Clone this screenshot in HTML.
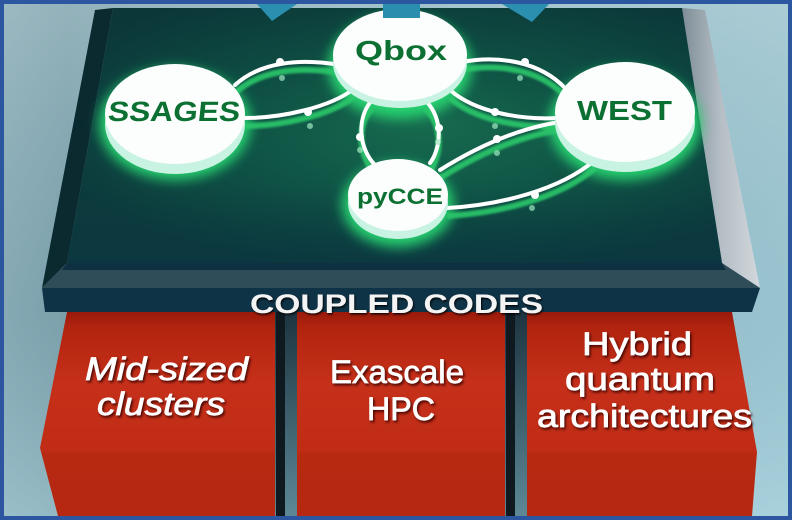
<!DOCTYPE html>
<html><head><meta charset="utf-8"><style>
html,body{margin:0;padding:0;width:792px;height:520px;overflow:hidden;background:#2d56a0}
svg{display:block}
</style></head><body>
<svg width="792" height="520" viewBox="0 0 792 520" xmlns="http://www.w3.org/2000/svg">
<defs>
<linearGradient id="bg" x1="0" y1="0" x2="1" y2="0">
<stop offset="0" stop-color="#8fb0ba"/><stop offset="0.08" stop-color="#7fa3ad"/><stop offset="0.5" stop-color="#9cc3cf"/><stop offset="0.92" stop-color="#a6d1dd"/><stop offset="1" stop-color="#aad5e0"/>
</linearGradient>
<linearGradient id="bgv" x1="0" y1="0" x2="0" y2="1">
<stop offset="0" stop-color="#a9c2c9" stop-opacity="0.5"/><stop offset="0.6" stop-color="#6f98a5" stop-opacity="0.3"/><stop offset="1" stop-color="#a5cdd8" stop-opacity="0.5"/>
</linearGradient>
<radialGradient id="top" cx="0.55" cy="0.45" r="0.6">
<stop offset="0" stop-color="#187050"/><stop offset="0.5" stop-color="#0f5446"/><stop offset="1" stop-color="#0c3a3c"/>
</radialGradient>
<linearGradient id="topv" x1="0" y1="0" x2="0" y2="1">
<stop offset="0" stop-color="#0a2f30" stop-opacity="0.3"/><stop offset="0.7" stop-color="#0a3a40" stop-opacity="0"/><stop offset="1" stop-color="#0b3543" stop-opacity="0.6"/>
</linearGradient>
<linearGradient id="gray" x1="0" y1="0" x2="1" y2="0">
<stop offset="0" stop-color="#7d8d96"/><stop offset="0.5" stop-color="#b5bec5"/><stop offset="1" stop-color="#d2d8dc"/>
</linearGradient>
<linearGradient id="red1" x1="0" y1="0" x2="0" y2="1">
<stop offset="0" stop-color="#9a1a0b"/><stop offset="0.08" stop-color="#b2240f"/><stop offset="0.35" stop-color="#c6301a"/><stop offset="0.68" stop-color="#c02c15"/><stop offset="0.7" stop-color="#b82912"/><stop offset="1" stop-color="#b62812"/>
</linearGradient>
<linearGradient id="gap" x1="0" y1="0" x2="0" y2="1">
<stop offset="0" stop-color="#1d3440"/><stop offset="1" stop-color="#5d8896"/>
</linearGradient>
<filter id="blur6" x="-30%" y="-30%" width="160%" height="160%"><feGaussianBlur stdDeviation="6"/></filter>
<filter id="blur1" x="-30%" y="-30%" width="160%" height="160%"><feGaussianBlur stdDeviation="1"/></filter>
<filter id="sh" x="-10%" y="-30%" width="120%" height="160%"><feDropShadow dx="1.5" dy="2" stdDeviation="1.2" flood-color="#300500" flood-opacity="0.85"/></filter>
<filter id="sh2" x="-10%" y="-30%" width="120%" height="160%"><feDropShadow dx="1" dy="1.5" stdDeviation="1" flood-color="#000" flood-opacity="0.9"/></filter>
</defs>

<rect x="4" y="4" width="784" height="512" fill="url(#bg)"/>
<rect x="4" y="4" width="784" height="512" fill="url(#bgv)"/>

<rect x="272" y="312" width="28" height="204" fill="url(#gap)"/>
<rect x="276" y="312" width="9" height="204" fill="#0e1a20"/>
<rect x="502" y="312" width="28" height="204" fill="url(#gap)"/>
<rect x="506" y="312" width="9" height="204" fill="#0e1a20"/>
<polygon points="67,312 275,312 275,516 58,516 40,448" fill="url(#red1)"/>
<polygon points="297,312 505,312 505,516 297,516" fill="url(#red1)"/>
<polygon points="527,312 732,312 757,452 752,516 527,516" fill="url(#red1)"/>

<polygon points="95,10 113,8 67,263 42,288" fill="#0a2a30"/>
<polygon points="682,8 705,10 760,288 722,263" fill="url(#gray)"/>
<polygon points="113,8 682,8 722,263 67,263" fill="url(#top)"/>
<polygon points="113,8 682,8 722,263 67,263" fill="url(#topv)"/>
<polygon points="67,263 722,263 760,288 42,288" fill="#2e4d58"/>
<polygon points="67,263 722,263 726,270 62,270" fill="#0f3040"/>
<polygon points="42,288 760,288 752,312 45,312" fill="#0f3346"/>

<polygon points="257,4 297,4 272,21" fill="#2b8fb0"/>
<polygon points="502,4 549,4 532,22" fill="#2b8fb0"/>

<g filter="url(#blur6)" opacity="1">
<ellipse cx="175" cy="124" rx="76" ry="56" fill="#28d070"/>
<ellipse cx="400" cy="67" rx="72" ry="52" fill="#28d070"/>
<ellipse cx="625" cy="124" rx="76" ry="56" fill="#28d070"/>
<ellipse cx="398" cy="205" rx="56" ry="42" fill="#28d070"/>
</g>

<g fill="none" stroke="#2bc86a" stroke-width="6" filter="url(#blur1)" transform="translate(0,8)" opacity="0.9">
<path d="M235,85 C260,62 300,58 340,65"/>
<path d="M245,118 C280,118 330,108 355,88"/>
<path d="M462,62 C500,55 540,62 565,88"/>
<path d="M450,90 C475,112 520,120 558,118"/>
<path d="M372,100 C355,120 360,150 375,165"/>
<path d="M425,100 C445,120 440,150 430,163"/>
<path d="M440,170 C480,145 520,128 560,122"/>
<path d="M447,208 C500,205 560,190 595,160"/>
</g>
<g fill="none" stroke="#ffffff" stroke-width="4" stroke-linecap="round">
<path d="M235,85 C260,62 300,58 340,65"/>
<path d="M245,118 C280,118 330,108 355,88"/>
<path d="M462,62 C500,55 540,62 565,88"/>
<path d="M450,90 C475,112 520,120 558,118"/>
<path d="M372,100 C355,120 360,150 375,165"/>
<path d="M425,100 C445,120 440,150 430,163"/>
<path d="M440,170 C480,145 520,128 560,122"/>
<path d="M447,208 C500,205 560,190 595,160"/>
</g>
<g fill="#ffffff">
<circle cx="280" cy="62" r="4"/><circle cx="308" cy="112" r="4"/>
<circle cx="525" cy="62" r="4"/><circle cx="495" cy="112" r="4"/>
<circle cx="360" cy="137" r="4"/><circle cx="439" cy="128" r="4"/>
<circle cx="497" cy="139" r="4"/><circle cx="535" cy="195" r="4"/>
</g>
<g fill="#9ee8c0" opacity="0.7">
<circle cx="282" cy="78" r="3"/><circle cx="310" cy="126" r="3"/>
<circle cx="520" cy="78" r="3"/><circle cx="495" cy="126" r="3"/>
<circle cx="360" cy="150" r="3"/><circle cx="438" cy="142" r="3"/>
<circle cx="497" cy="153" r="3"/><circle cx="532" cy="208" r="3"/>
</g>

<g>
<ellipse cx="175" cy="124" rx="70" ry="50" fill="#c8f2e2"/>
<ellipse cx="175" cy="114" rx="70" ry="50" fill="#fbfefd"/>
<ellipse cx="400" cy="63" rx="67" ry="45" fill="#c8f2e2"/>
<ellipse cx="400" cy="55" rx="67" ry="46" fill="#fbfefd"/>
<ellipse cx="625" cy="122" rx="70" ry="50" fill="#c8f2e2"/>
<ellipse cx="625" cy="112" rx="70" ry="50" fill="#fbfefd"/>
<ellipse cx="398" cy="203" rx="50" ry="36" fill="#c8f2e2"/>
<ellipse cx="398" cy="195" rx="50" ry="36" fill="#fbfefd"/>
</g>
<rect x="383" y="4" width="37" height="14" fill="#2a8fae"/>

<g font-family="'Liberation Sans', sans-serif" font-weight="bold" fill="#0c7033">
<text x="108" y="121" font-size="28" textLength="132" lengthAdjust="spacingAndGlyphs" transform="skewX(-6) translate(12,0)">SSAGES</text>
<text x="355" y="60" font-size="28" textLength="92" lengthAdjust="spacingAndGlyphs">Qbox</text>
<text x="577" y="120" font-size="28" textLength="95" lengthAdjust="spacingAndGlyphs">WEST</text>
<text x="357" y="204" font-size="22" textLength="86" lengthAdjust="spacingAndGlyphs">pyCCE</text>
</g>

<text x="250" y="313" font-family="'Liberation Sans', sans-serif" font-weight="bold" font-size="27" fill="#f4f4f4" textLength="293" lengthAdjust="spacingAndGlyphs" filter="url(#sh2)">COUPLED CODES</text>

<g font-family="'Liberation Sans', sans-serif" font-size="32" fill="#ffffff" stroke="#ffffff" stroke-width="0.7" filter="url(#sh)">
<text x="85" y="380" font-style="italic" textLength="163" lengthAdjust="spacingAndGlyphs">Mid-sized</text>
<text x="97" y="415" font-style="italic" textLength="128" lengthAdjust="spacingAndGlyphs">clusters</text>
<text x="330" y="383" textLength="134" lengthAdjust="spacingAndGlyphs">Exascale</text>
<text x="367" y="420" textLength="68" lengthAdjust="spacingAndGlyphs">HPC</text>
<text x="582" y="355" textLength="110" lengthAdjust="spacingAndGlyphs">Hybrid</text>
<text x="565" y="390" textLength="150" lengthAdjust="spacingAndGlyphs">quantum</text>
<text x="537" y="427" textLength="215" lengthAdjust="spacingAndGlyphs">architectures</text>
</g>

<rect x="2" y="2" width="788" height="516" fill="none" stroke="#2d56a0" stroke-width="4"/>
</svg>
</body></html>
